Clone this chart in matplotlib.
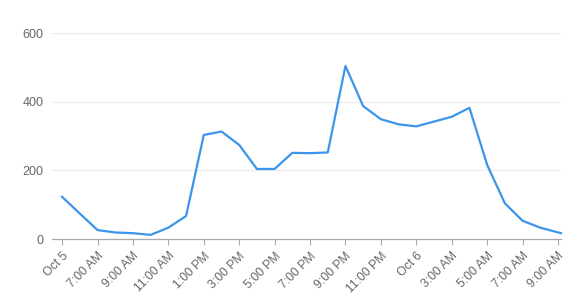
import matplotlib
matplotlib.use("Agg")
import matplotlib.pyplot as plt

# hours since 5:00 AM Oct 5
hours = [0, 1, 2, 3, 4, 5, 6, 7, 8, 9, 10, 11, 12, 13, 14, 15, 16, 17, 18, 19,
         20, 21, 22, 23, 24, 25, 26, 27, 28.17]
values = [123, 74, 26, 19, 17, 12, 33, 67, 303, 313, 274, 204, 204, 251, 250,
          252, 504, 387, 349, 334, 328, 342, 356, 382, 216, 104, 53, 33, 17]

tick_pos = [0, 2, 4, 6, 8, 10, 12, 14, 16, 18, 20, 22, 24, 26, 28]
tick_labels = ["Oct 5", "7:00 AM", "9:00 AM", "11:00 AM", "1:00 PM", "3:00 PM",
               "5:00 PM", "7:00 PM", "9:00 PM", "11:00 PM", "Oct 6", "3:00 AM",
               "5:00 AM", "7:00 AM", "9:00 AM"]
y_ticks = [0, 200, 400, 600]

plt.rcParams['font.family'] = ['Liberation Sans', 'DejaVu Sans']

fig = plt.figure(figsize=(5.66, 3.05), dpi=100)
ax = fig.add_axes([52 / 566, (305 - 239) / 305, (561 - 52) / 566, (239 - 33) / 305])

ax.plot(hours, values, color="#3a95eb", lw=1.6, solid_joinstyle="round", zorder=3, clip_on=False)

ax.set_xlim(-0.57, 28.17)
ax.set_ylim(0, 600)
ax.set_yticks(y_ticks)
ax.set_yticklabels([str(v) for v in y_ticks])
ax.set_xticks(tick_pos)
ax.set_xticklabels(tick_labels, rotation=45, ha="right", rotation_mode="anchor")

ax.grid(axis="y", color="#ebebeb", lw=0.8)
ax.set_axisbelow(True)
for s in ["top", "right", "left"]:
    ax.spines[s].set_visible(False)
ax.spines["bottom"].set_color("#aaaaaa")
ax.spines["bottom"].set_linewidth(0.9)
ax.spines["bottom"].set_zorder(2)

ax.tick_params(axis="y", length=0, pad=6, labelsize=9, labelcolor="#666666")
ax.tick_params(axis="x", length=4, color="#aaaaaa", width=0.8, pad=4,
               labelsize=8.8, labelcolor="#666666")

fig.savefig("out.png", dpi=100, facecolor="white")
